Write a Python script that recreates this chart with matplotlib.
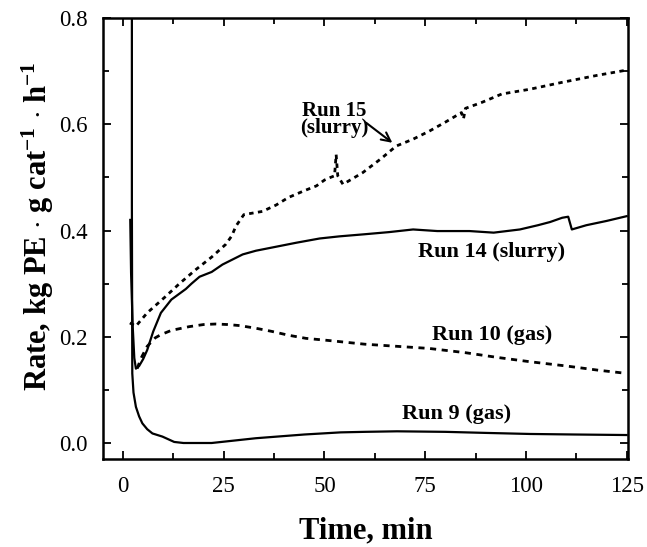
import matplotlib
matplotlib.use('Agg')
import matplotlib.pyplot as plt
from matplotlib.ticker import MultipleLocator

plt.rcParams['font.family'] = ['Liberation Serif', 'DejaVu Serif']
plt.rcParams['mathtext.fontset'] = 'custom'
plt.rcParams['mathtext.rm'] = 'Liberation Serif:bold'
plt.rcParams['mathtext.default'] = 'rm'

# Run 9 (gas)
run9_t = [2.2, 2.2, 2.3, 2.6, 3.2, 4.0, 4.8, 6.0, 7.3, 9.8, 12.7, 15, 22, 33, 45, 54, 60, 68, 80, 90, 101, 112, 125]
run9_r = [0.85, 0.45, 0.131, 0.095, 0.068, 0.05, 0.037, 0.026, 0.018, 0.012, 0.002, 0.0, 0.0, 0.009, 0.016, 0.02,
          0.021, 0.022, 0.021, 0.019, 0.017, 0.016, 0.015]

# Run 14 (slurry)
run14_t = [1.8, 2.0, 2.4, 2.8, 3.2, 4.0, 5.0, 6.0, 7.5, 9.4, 12, 15.6, 17, 19, 22, 24.7, 29.7, 33, 37, 43,
           48.8, 53.7, 60, 66, 72, 78, 86, 92, 98.5, 103, 106, 109, 110.5, 111.4, 115, 120, 125]
run14_r = [0.42, 0.32, 0.22, 0.16, 0.14, 0.145, 0.158, 0.175, 0.21, 0.245, 0.27, 0.29, 0.30, 0.313, 0.322,
           0.336, 0.355, 0.362, 0.368, 0.377, 0.385, 0.389, 0.393, 0.397, 0.402, 0.399, 0.399, 0.396, 0.402,
           0.41, 0.416, 0.424, 0.426, 0.402, 0.41, 0.418, 0.427]

# Run 10 (gas)
run10_t = [3.5, 4.5, 6, 8, 9.4, 12, 16.4, 20, 23, 26, 29, 33, 37, 41, 45.4, 51, 60, 70, 76, 85, 93, 101, 110, 118, 125]
run10_r = [0.14, 0.16, 0.182, 0.198, 0.204, 0.212, 0.219, 0.223, 0.224, 0.223, 0.221, 0.216, 0.21, 0.203, 0.197,
           0.193, 0.186, 0.181, 0.178, 0.17, 0.161, 0.153, 0.145, 0.137, 0.131]

# Run 15 (slurry)
run15_t = [1.7, 3.2, 6, 10.6, 14, 18, 22, 25.5, 27, 28, 30, 34.6, 38, 41, 45, 48, 50, 51.5, 52.5, 52.9, 53.3,
           54.6, 59.5, 64, 67.8, 72, 76, 80, 84, 84.5, 85, 89, 94, 101, 109, 117.6, 125]
run15_r = [0.226, 0.22, 0.245, 0.276, 0.3, 0.326, 0.35, 0.374, 0.39, 0.408, 0.43, 0.436, 0.448, 0.462, 0.475,
           0.484, 0.495, 0.50, 0.503, 0.543, 0.503, 0.487, 0.509, 0.535, 0.559, 0.572, 0.587, 0.604, 0.622, 0.61,
           0.63, 0.641, 0.657, 0.666, 0.679, 0.692, 0.702]


def main():
    fig = plt.figure(figsize=(6.47, 5.47), dpi=100)
    ax = fig.add_axes([0.159, 0.161, 0.812, 0.806])

    ax.plot(run9_t, run9_r, color='black', lw=1.6)
    ax.plot(run14_t, run14_r, color='black', lw=1.6)
    ax.plot(run10_t, run10_r, color='black', lw=2.0, dashes=(2.2, 2.0))
    ax.plot(run15_t, run15_r, color='black', lw=2.0, dashes=(1.6, 1.6))

    lbl = dict(fontsize=16, fontweight='bold', ha='center', va='center')
    ax.text(52.5, 0.609, 'Run 15\n(slurry)', fontsize=15, fontweight='bold', ha='center', va='center',
            linespacing=0.75)
    ax.annotate('', xy=(67.4, 0.562), xytext=(59.8, 0.606),
                arrowprops=dict(arrowstyle='->', color='black', lw=1.5, mutation_scale=16))
    ax.text(91.5, 0.36, 'Run 14 (slurry)', **lbl)
    ax.text(91.5, 0.204, 'Run 10 (gas)', **lbl)
    ax.text(82.8, 0.055, 'Run 9 (gas)', **lbl)

    ax.set_xlim(-5, 125.4)
    ax.set_ylim(-0.03, 0.8)
    ax.xaxis.set_major_locator(MultipleLocator(25))
    ax.xaxis.set_minor_locator(MultipleLocator(12.5))
    ax.yaxis.set_major_locator(MultipleLocator(0.2))
    ax.yaxis.set_minor_locator(MultipleLocator(0.1))
    ax.set_yticks([0.0, 0.2, 0.4, 0.6, 0.8])
    ax.set_yticklabels(['0.0', '0.2', '0.4', '0.6', '0.8'])
    ax.tick_params(which='both', direction='in', top=True, right=True, width=1.3, labelsize=16.5)
    ax.tick_params(axis='y', pad=11)
    ax.tick_params(axis='x', pad=12)
    ax.tick_params(which='major', length=6)
    ax.tick_params(which='minor', length=4)
    for s in ax.spines.values():
        s.set_linewidth(1.8)

    ax.set_xlabel('Time, min', fontsize=22, fontweight='bold', labelpad=14)
    ax.set_ylabel(r'Rate, kg PE $\cdot$ g cat$^{-1}$ $\cdot$ h$^{-1}$', fontsize=22,
                  fontweight='bold', labelpad=2)
    ax.yaxis.label.set_y(0.528)

    fig.savefig('out.png', dpi=100)


if __name__ == '__main__':
    main()
